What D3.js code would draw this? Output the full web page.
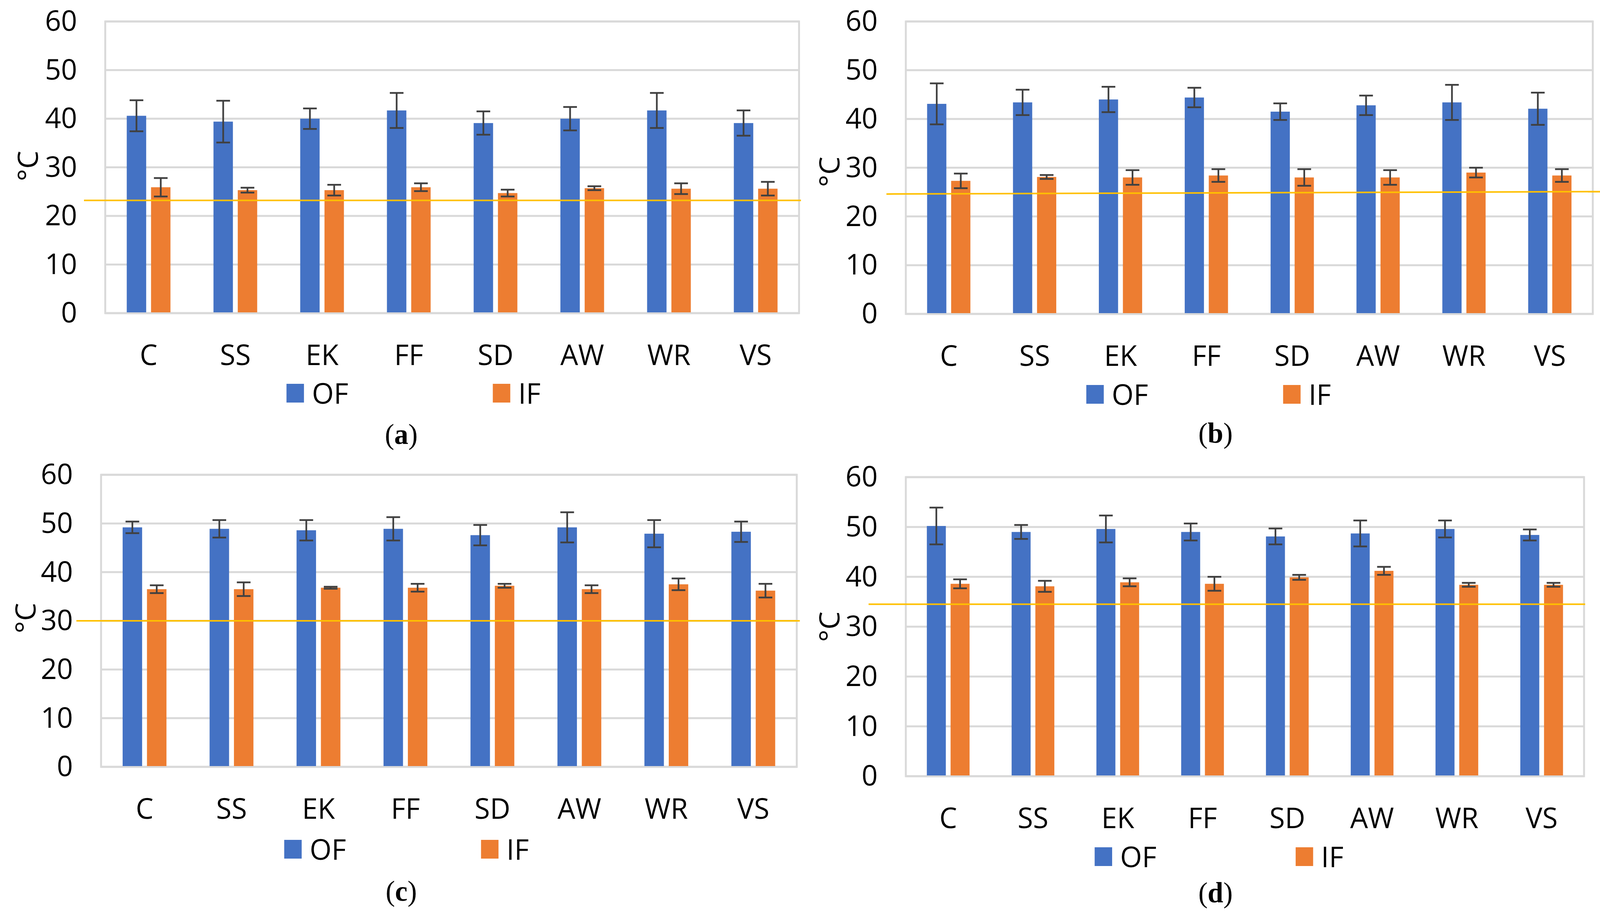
<!DOCTYPE html>
<html>
<head>
<meta charset="utf-8">
<script src="https://cdn.jsdelivr.net/npm/d3@7"></script>
<style>
  html, body { margin: 0; padding: 0; background: #fff; overflow: hidden; }
  svg { display: block; width: 100vw; height: 100vh; }
</style>
</head>
<body>
<script>
// categories and series (°C)
const categories = ['C', 'SS', 'EK', 'FF', 'SD', 'AW', 'WR', 'VS'];
const seriesNames = ['OF', 'IF'];
const yTicks = [0, 10, 20, 30, 40, 50, 60];

const ofA = [40.6, 39.4, 40.0, 41.7, 39.1, 40.0, 41.7, 39.1];
const ofErrA = [3.2, 4.3, 2.1, 3.6, 2.4, 2.4, 3.6, 2.6];
const ifA = [25.9, 25.3, 25.3, 25.9, 24.7, 25.7, 25.6, 25.6];
const ifErrA = [1.9, 0.5, 1.1, 0.8, 0.7, 0.4, 1.1, 1.4];

const ofB = [43.1, 43.4, 44.0, 44.4, 41.5, 42.8, 43.4, 42.1];
const ofErrB = [4.2, 2.6, 2.6, 2.0, 1.7, 2.0, 3.6, 3.3];
const ifB = [27.3, 28.1, 28.0, 28.4, 28.0, 28.0, 29.0, 28.4];
const ifErrB = [1.5, 0.4, 1.5, 1.3, 1.7, 1.5, 1.0, 1.3];

const ofC = [49.2, 48.9, 48.6, 48.9, 47.6, 49.2, 47.9, 48.3];
const ofErrC = [1.2, 1.8, 2.1, 2.4, 2.1, 3.1, 2.8, 2.1];
const ifC = [36.5, 36.5, 36.8, 36.8, 37.2, 36.5, 37.5, 36.2];
const ifErrC = [0.8, 1.4, 0.2, 0.8, 0.4, 0.8, 1.2, 1.4];

const ofD = [50.2, 49.0, 49.6, 49.0, 48.1, 48.7, 49.6, 48.4];
const ofErrD = [3.7, 1.4, 2.7, 1.7, 1.6, 2.6, 1.7, 1.1];
const ifD = [38.6, 38.1, 38.9, 38.6, 39.9, 41.2, 38.4, 38.4];
const ifErrD = [0.9, 1.1, 0.8, 1.4, 0.5, 0.8, 0.4, 0.4];

// yellow reference line (start and end value)
const refA = [23.2, 23.2];
const refB = [24.6, 25.1];
const refC = [30.0, 30.0];
const refD = [34.5, 34.5];

const colors = { OF: '#4472C4', IF: '#ED7D31' };
const font = "'Open Sans', sans-serif";
const fontSize = 74;
const W = 4211, H = 2346;

// panel layout
let panels = [
    { tag: 'a', of: ofA, ofErr: ofErrA, inf: ifA, infErr: ifErrA, ref: refA,
      left: 277, right: 2103, top: 55, bottom: 802, refX: [221, 2108],
      unit: [73, 425], legY: 1007, legOF: 754, legIF: 1297, cap: [1056, 1137] },
    { tag: 'b', of: ofB, ofErr: ofErrB, inf: ifB, infErr: ifErrB, ref: refB,
      left: 2384, right: 4192, top: 55, bottom: 804, refX: [2333, 4211],
      unit: [2183, 440], legY: 1010, legOF: 2859, legIF: 3377, cap: [3199, 1134] },
    { tag: 'c', of: ofC, ofErr: ofErrC, inf: ifC, infErr: ifErrC, ref: refC,
      left: 266, right: 2097, top: 1216, bottom: 1964, refX: [201, 2105],
      unit: [67, 1583], legY: 2175, legOF: 748, legIF: 1266, cap: [1056, 2307] },
    { tag: 'd', of: ofD, ofErr: ofErrD, inf: ifD, infErr: ifErrD, ref: refD,
      left: 2384, right: 4169, top: 1222, bottom: 1988, refX: [2286, 4172],
      unit: [2183, 1605], legY: 2194, legOF: 2881, legIF: 3410, cap: [3199, 2311] }
];

let svg = d3.select('body').append('svg')
    .attr('viewBox', `0 0 ${W} ${H}`)
    .attr('preserveAspectRatio', 'none')
    .style('font-family', font);

svg.append('rect').attr('width', W).attr('height', H).attr('fill', '#fff');

let drawPanel = p => {
    let g = svg.append('g');

    let xScale = d3.scaleBand().domain(categories).range([p.left, p.right]);
    let bw = xScale.bandwidth();
    let xInner = d3.scaleBand().domain(seriesNames).range([bw * 0.248, bw * 0.752]).paddingInner(0.2);
    let yScale = d3.scaleLinear().domain([0, 60]).range([p.bottom, p.top]);

    // gridlines
    g.append('g')
        .selectAll('line')
        .data(yTicks)
        .enter()
        .append('line')
        .attr('x1', p.left)
        .attr('x2', p.right)
        .attr('y1', d => yScale(d))
        .attr('y2', d => yScale(d))
        .attr('stroke', '#D9D9D9')
        .attr('stroke-width', 5);

    // plot area border
    g.append('rect')
        .attr('x', p.left)
        .attr('y', p.top)
        .attr('width', p.right - p.left)
        .attr('height', p.bottom - p.top)
        .attr('fill', 'none')
        .attr('stroke', '#D9D9D9')
        .attr('stroke-width', 5);

    // y axis labels
    let yAxis = d3.axisLeft(yScale).tickValues(yTicks).tickSize(0).tickPadding(74);
    let yAxisGroup = g.append('g')
        .attr('transform', `translate(${p.left}, 0)`)
        .call(yAxis);
    yAxisGroup.select('.domain').remove();
    yAxisGroup.selectAll('text')
        .attr('font-family', font)
        .attr('font-size', fontSize)
        .attr('fill', '#000');

    // category labels
    let xAxis = d3.axisBottom(xScale).tickSize(0).tickPadding(80);
    let xAxisGroup = g.append('g')
        .attr('transform', `translate(0, ${p.bottom})`)
        .call(xAxis);
    xAxisGroup.select('.domain').remove();
    xAxisGroup.selectAll('text')
        .attr('font-family', font)
        .attr('font-size', fontSize)
        .attr('fill', '#000');

    // bars
    let rows = categories.map((c, i) => ({
        cat: c,
        items: [
            { key: 'OF', value: p.of[i], err: p.ofErr[i] },
            { key: 'IF', value: p.inf[i], err: p.infErr[i] }
        ]
    }));

    let groups = g.append('g')
        .selectAll('g')
        .data(rows)
        .enter()
        .append('g')
        .attr('transform', d => `translate(${xScale(d.cat)}, 0)`);

    groups.selectAll('rect')
        .data(d => d.items)
        .enter()
        .append('rect')
        .attr('x', d => xInner(d.key))
        .attr('width', xInner.bandwidth())
        .attr('y', d => yScale(d.value))
        .attr('height', d => yScale(0) - yScale(d.value) - 2)
        .attr('fill', d => colors[d.key]);

    // error bars
    let errs = groups.selectAll('g.err')
        .data(d => d.items)
        .enter()
        .append('g')
        .attr('class', 'err')
        .attr('stroke', '#404040')
        .attr('stroke-width', 4.5);
    let cx = d => xInner(d.key) + xInner.bandwidth() / 2;
    errs.append('line')
        .attr('x1', cx).attr('x2', cx)
        .attr('y1', d => yScale(d.value + d.err))
        .attr('y2', d => yScale(d.value - d.err));
    [1, -1].forEach(s => {
        errs.append('line')
            .attr('x1', d => cx(d) - 18).attr('x2', d => cx(d) + 18)
            .attr('y1', d => yScale(d.value + s * d.err))
            .attr('y2', d => yScale(d.value + s * d.err));
    });

    // yellow reference line
    g.append('line')
        .attr('x1', p.refX[0])
        .attr('x2', p.refX[1])
        .attr('y1', yScale(p.ref[0]))
        .attr('y2', yScale(p.ref[1]))
        .attr('stroke', '#FFC000')
        .attr('stroke-width', 4);

    // unit label
    g.append('text')
        .attr('transform', `translate(${p.unit[0]}, ${p.unit[1]}) rotate(-90)`)
        .attr('text-anchor', 'middle')
        .attr('dy', '0.36em')
        .attr('font-size', fontSize)
        .attr('fill', '#000')
        .text('°C');

    // legend
    let legend = g.append('g');
    [['OF', p.legOF], ['IF', p.legIF]].forEach(([k, x]) => {
        legend.append('rect')
            .attr('x', x)
            .attr('y', p.legY - 24)
            .attr('width', 46)
            .attr('height', 48)
            .attr('fill', colors[k]);
        legend.append('text')
            .attr('x', x + 67)
            .attr('y', p.legY)
            .attr('dy', '0.36em')
            .attr('font-size', fontSize)
            .attr('fill', '#000')
            .text(k);
    });

    // caption
    let cap = g.append('text')
        .attr('x', p.cap[0])
        .attr('y', p.cap[1])
        .attr('text-anchor', 'middle')
        .attr('font-family', "'Liberation Serif', 'Times New Roman', serif")
        .attr('font-size', 74)
        .attr('fill', '#000');
    cap.append('tspan').text('(');
    cap.append('tspan').attr('font-weight', 'bold').text(p.tag);
    cap.append('tspan').text(')');
};

panels.forEach(drawPanel);
</script>
</body>
</html>
